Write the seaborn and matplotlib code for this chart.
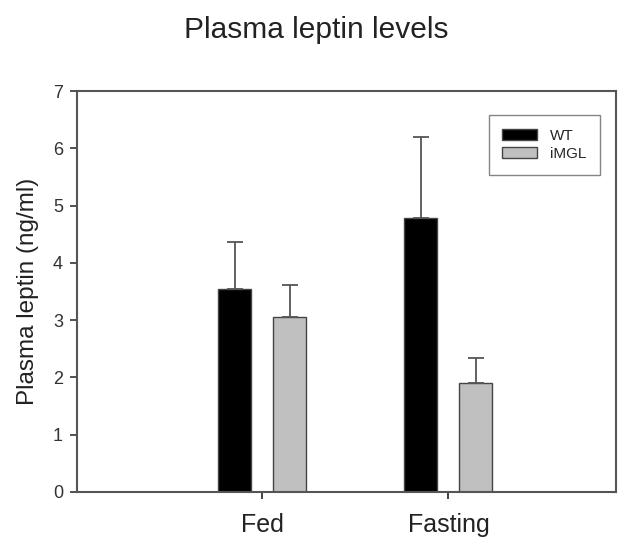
import matplotlib
matplotlib.use("Agg")
import matplotlib.pyplot as plt
import seaborn as sns
import pandas as pd

conditions = ["Fed", "Fed", "Fasting", "Fasting"]
genotypes = ["WT", "iMGL", "WT", "iMGL"]
leptin_mean = [3.55, 3.06, 4.79, 1.91]
leptin_err = [0.82, 0.55, 1.40, 0.43]

df = pd.DataFrame({"Condition": conditions, "Genotype": genotypes, "Leptin": leptin_mean})

sns.set_theme(style="white")
plt.rcParams["font.family"] = ["Liberation Sans", "DejaVu Sans"]

fig = plt.figure(figsize=(6.32, 5.39), dpi=100)
ax = fig.add_axes([77/632, 1-492/539, (616-77)/632, (492-91)/539])

edge = "#444444"
sns.barplot(data=df, x="Condition", y="Leptin", hue="Genotype",
            order=["Fed", "Fasting"], hue_order=["WT", "iMGL"],
            palette={"WT": "#000000", "iMGL": "#c0c0c0"},
            width=0.59, gap=0.40, edgecolor=edge, linewidth=1.0,
            errorbar=None, ax=ax)

# error bars (upper only) at bar centres
for cont, g in zip(ax.containers, ["WT", "iMGL"]):
    for rect, cond in zip(cont.patches, ["Fed", "Fasting"]):
        i = [k for k in range(4) if conditions[k] == cond and genotypes[k] == g][0]
        xc = rect.get_x() + rect.get_width() / 2
        ax.errorbar([xc], [leptin_mean[i]], yerr=[[0], [leptin_err[i]]],
                    fmt="none", ecolor="#555555", elinewidth=1.3,
                    capsize=6, capthick=1.3, zorder=1)

ax.set_xlim(-0.995, 1.90)
ax.set_ylim(0, 7)
ax.set_yticks(range(0, 8))
ax.set_xlabel("")
ax.set_ylabel("Plasma leptin (ng/ml)", fontsize=17.5, color="#222222", labelpad=10)
ax.tick_params(axis="y", labelsize=13, colors="#333333", length=5, width=1.2,
               direction="out", left=True, pad=5)
ax.tick_params(axis="x", labelsize=18, colors="#222222", length=5, width=1.2,
               direction="out", bottom=True, pad=10)
for s in ax.spines.values():
    s.set_color("#555555")
    s.set_linewidth(1.5)

leg = ax.legend(loc="upper right", bbox_to_anchor=(0.97, 0.94), fontsize=11,
                frameon=True, fancybox=False, edgecolor="#666666",
                handlelength=2.3, handleheight=0.8, borderpad=0.9,
                labelspacing=0.25, handletextpad=0.8, borderaxespad=0.0)
leg.get_frame().set_linewidth(1.0)

fig.text(0.5, 1-30/539, "Plasma leptin levels", ha="center", va="center",
         fontsize=21.5, color="#222222")

fig.savefig("out.png", dpi=100, facecolor="white")
